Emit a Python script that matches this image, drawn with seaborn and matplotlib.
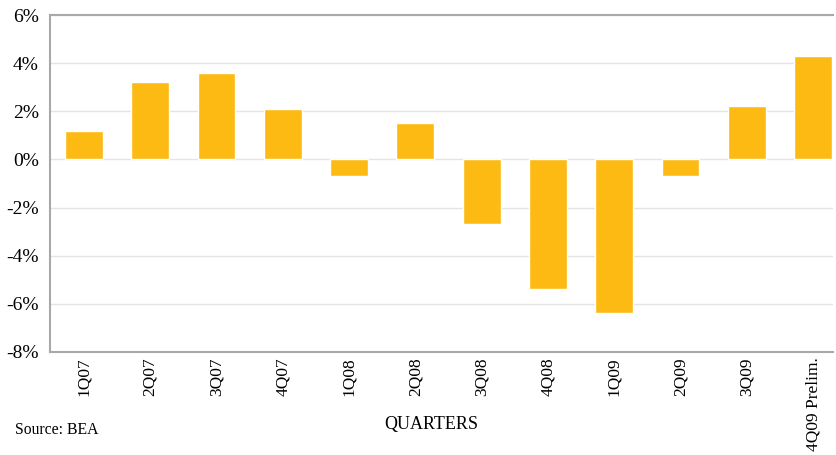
import matplotlib
matplotlib.use("Agg")
import matplotlib.pyplot as plt
import seaborn as sns
import pandas as pd

quarters = ["1Q07", "2Q07", "3Q07", "4Q07", "1Q08", "2Q08", "3Q08", "4Q08",
            "1Q09", "2Q09", "3Q09", "4Q09 Prelim."]
growth = [1.2, 3.2, 3.6, 2.1, -0.7, 1.5, -2.7, -5.4, -6.4, -0.7, 2.2, 4.3]
yticks = [-8, -6, -4, -2, 0, 2, 4, 6]
ytick_labels = [f"{v}%" for v in yticks]

df = pd.DataFrame({"quarter": quarters, "growth": growth})

sns.set_style("white")
plt.rcParams["font.family"] = ["Liberation Serif", "DejaVu Serif"]
plt.rcParams["text.color"] = "black"
plt.rcParams["xtick.color"] = "black"
plt.rcParams["ytick.color"] = "black"

fig = plt.figure(figsize=(8.37, 4.55), dpi=100)
ax = fig.add_axes([50 / 837, (455 - 352) / 455, 783 / 837, 337 / 455])

sns.barplot(data=df, x="quarter", y="growth", color="#FDBA12", saturation=1,
            width=0.57, ax=ax, zorder=3)

ax.set_ylim(-8, 6)
ax.set_xlim(-0.51, 11.3)
ax.set_yticks(yticks)
ax.set_yticklabels(ytick_labels, fontsize=14, color="black")
ax.tick_params(axis="y", length=0, pad=8)
ax.tick_params(axis="x", length=0, pad=4)
plt.setp(ax.get_xticklabels(), rotation=90, fontsize=12.5, color="black")
ax.grid(axis="y", color="#e4e4e4", linewidth=1, zorder=0)
ax.set_xlabel("")
ax.set_ylabel("")

for side in ["left", "top", "bottom"]:
    ax.spines[side].set_visible(True)
    ax.spines[side].set_color("#a8a8a8")
    ax.spines[side].set_linewidth(1.5)
ax.spines["right"].set_visible(False)

fig.text(431 / 837, 1 - 425 / 455, "QUARTERS", ha="center", va="center",
         fontsize=13, color="black")
fig.text(15 / 837, 1 - 430 / 455, "Source: BEA", ha="left", va="center",
         fontsize=11.3, color="black")

fig.savefig("out.png", dpi=100)
